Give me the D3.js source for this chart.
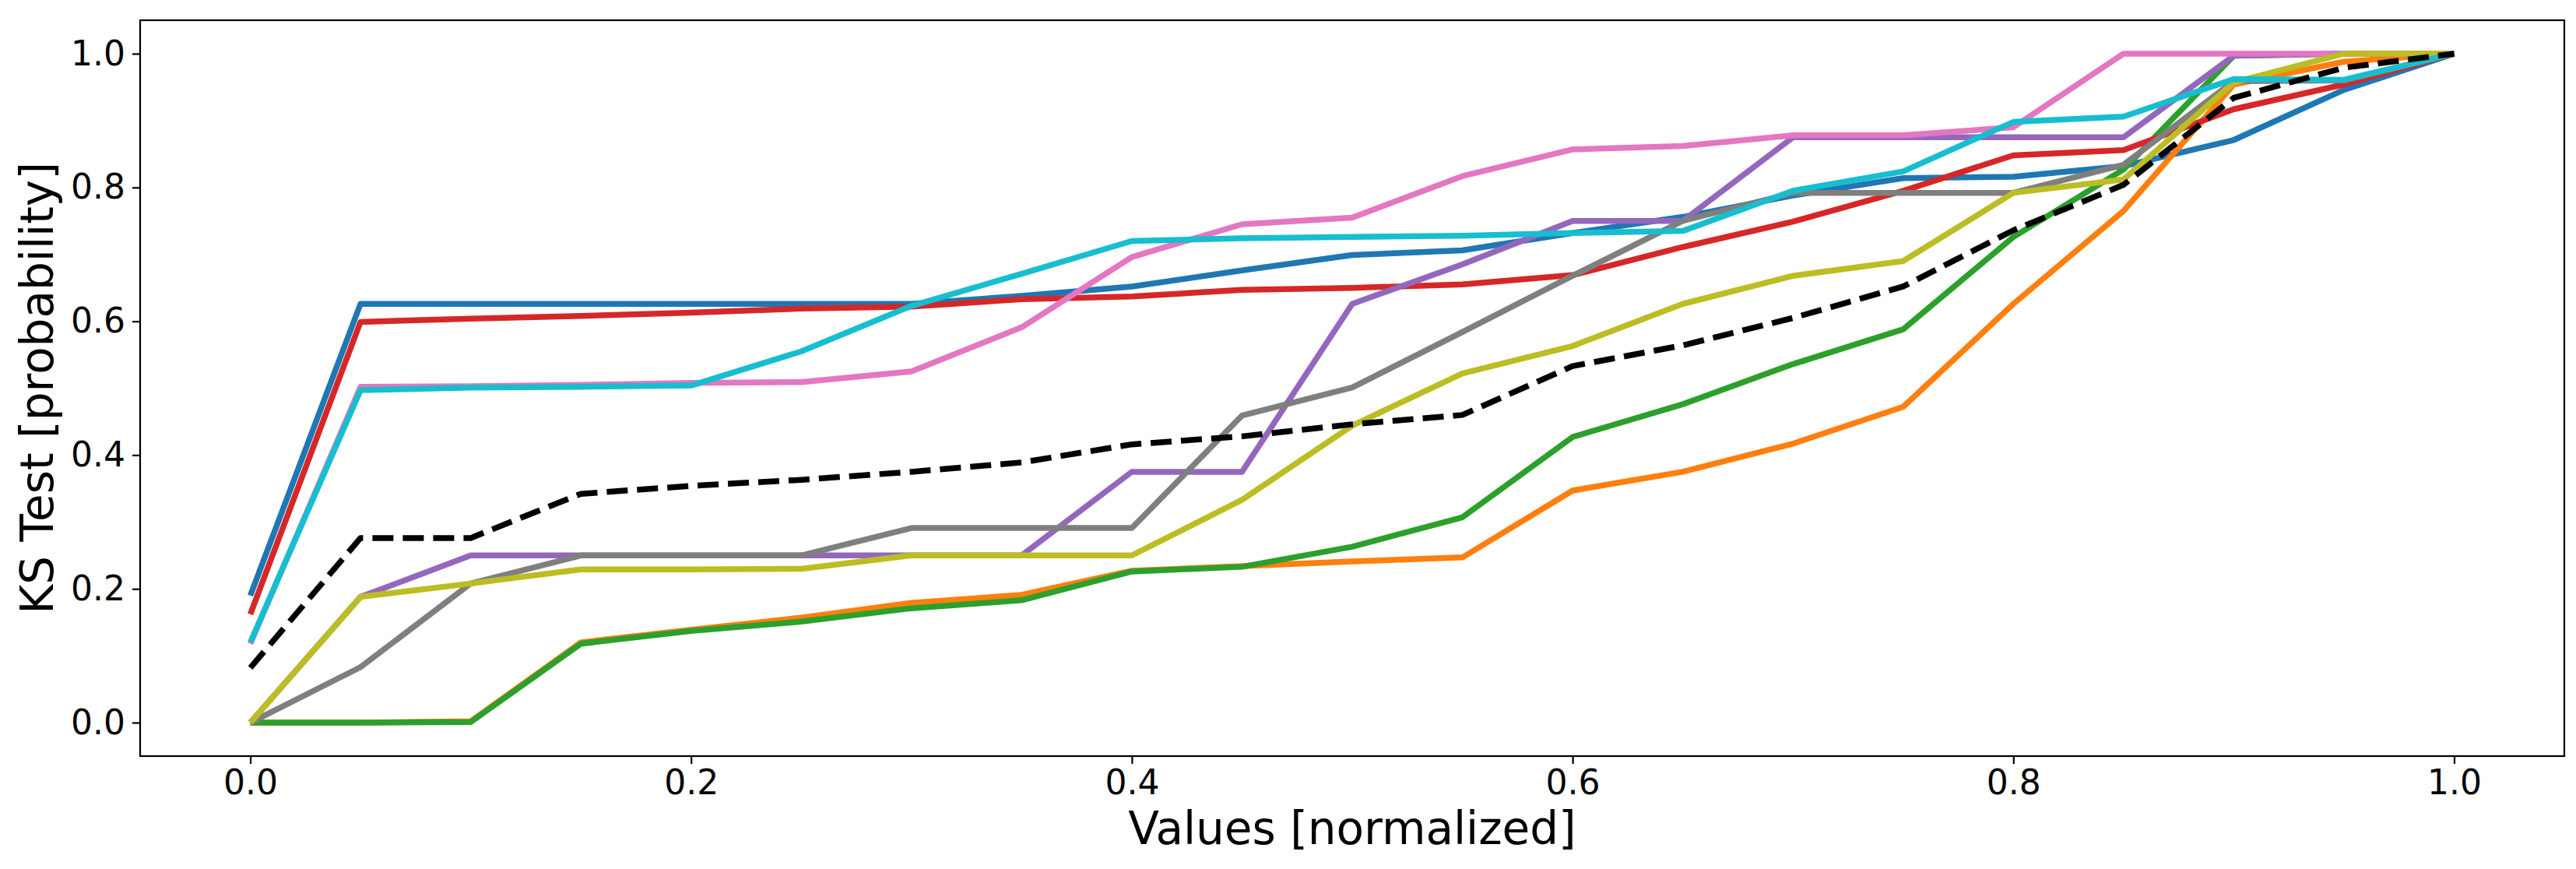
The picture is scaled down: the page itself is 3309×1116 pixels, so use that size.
<!DOCTYPE html>
<html>
<head>
<meta charset="utf-8">
<script src="https://cdn.jsdelivr.net/npm/d3@7"></script>
<style>
  html, body { margin: 0; padding: 0; background: #fff; }
  svg { display: block; }
  text { font-family: "DejaVu Sans", sans-serif; fill: #000; }
</style>
</head>
<body>
<svg id="chart" width="3309" height="1116"></svg>
<script>
// ---- data ----
const xValues = [0, 0.05, 0.1, 0.15, 0.2, 0.25, 0.3, 0.35, 0.4, 0.45, 0.5,
                 0.55, 0.6, 0.65, 0.7, 0.75, 0.8, 0.85, 0.9, 0.95, 1.0];
const xTicks = [0, 0.2, 0.4, 0.6, 0.8, 1.0];
const yTicks = [0, 0.2, 0.4, 0.6, 0.8, 1.0];

const blueSeries   = [0.19, 0.626, 0.626, 0.626, 0.626, 0.626, 0.626, 0.638, 0.652, 0.676, 0.699, 0.706, 0.732, 0.756, 0.788, 0.814, 0.816, 0.832, 0.871, 0.946, 1.0];
const orangeSeries = [0, 0, 0.002, 0.12, 0.139, 0.157, 0.179, 0.191, 0.227, 0.234, 0.241, 0.247, 0.347, 0.375, 0.417, 0.472, 0.626, 0.765, 0.954, 0.988, 1.0];
const greenSeries  = [0, 0, 0.001, 0.118, 0.137, 0.151, 0.171, 0.183, 0.226, 0.233, 0.263, 0.307, 0.427, 0.476, 0.536, 0.588, 0.726, 0.827, 0.997, 1.0, 1.0];
const redSeries    = [0.162, 0.599, 0.604, 0.608, 0.613, 0.619, 0.622, 0.633, 0.637, 0.647, 0.650, 0.655, 0.669, 0.711, 0.749, 0.795, 0.848, 0.856, 0.917, 0.954, 1.0];
const purpleSeries = [0, 0.188, 0.250, 0.250, 0.250, 0.250, 0.250, 0.250, 0.375, 0.375, 0.626, 0.685, 0.750, 0.750, 0.875, 0.875, 0.875, 0.875, 0.997, 1.0, 1.0];
const pinkSeries   = [0.118, 0.502, 0.503, 0.505, 0.508, 0.509, 0.525, 0.591, 0.696, 0.745, 0.755, 0.817, 0.857, 0.862, 0.878, 0.878, 0.890, 1.0, 1.0, 1.0, 1.0];
const graySeries   = [0, 0.083, 0.208, 0.25, 0.25, 0.25, 0.291, 0.291, 0.291, 0.459, 0.501, 0.584, 0.668, 0.750, 0.792, 0.792, 0.792, 0.834, 0.959, 0.96, 1.0];
const oliveSeries  = [0, 0.188, 0.208, 0.229, 0.229, 0.230, 0.25, 0.25, 0.25, 0.333, 0.444, 0.522, 0.563, 0.626, 0.668, 0.690, 0.792, 0.812, 0.957, 1.0, 1.0];
const cyanSeries   = [0.12, 0.497, 0.501, 0.502, 0.504, 0.555, 0.623, 0.671, 0.720, 0.724, 0.726, 0.728, 0.732, 0.735, 0.795, 0.824, 0.898, 0.906, 0.962, 0.961, 1.0];
const meanSeries   = [0.082, 0.276, 0.276, 0.342, 0.354, 0.363, 0.375, 0.389, 0.416, 0.428, 0.446, 0.460, 0.533, 0.564, 0.605, 0.652, 0.736, 0.804, 0.934, 0.979, 1.0];

const seriesList = [
  { values: blueSeries,   color: "#1f77b4", dashed: false },
  { values: orangeSeries, color: "#ff7f0e", dashed: false },
  { values: greenSeries,  color: "#2ca02c", dashed: false },
  { values: redSeries,    color: "#d62728", dashed: false },
  { values: purpleSeries, color: "#9467bd", dashed: false },
  { values: pinkSeries,   color: "#e377c2", dashed: false },
  { values: graySeries,   color: "#7f7f7f", dashed: false },
  { values: oliveSeries,  color: "#bcbd22", dashed: false },
  { values: cyanSeries,   color: "#17becf", dashed: false },
  { values: meanSeries,   color: "#000000", dashed: true }
];

// ---- layout ----
const W = 3309, H = 1116;
const margin = { left: 180, top: 26, right: 15, bottom: 145 };
const pw = W - margin.left - margin.right;
const ph = H - margin.top - margin.bottom;

const svg = d3.select("#chart");
const g = svg.append("g").attr("transform", `translate(${margin.left},${margin.top})`);

const x = d3.scaleLinear().domain([-0.05, 1.05]).range([0, pw]);
const y = d3.scaleLinear().domain([-0.05, 1.05]).range([ph, 0]);

g.append("clipPath").attr("id", "clip")
  .append("rect").attr("width", pw).attr("height", ph);

const line = d3.line()
  .x((d, i) => x(xValues[i]))
  .y(d => y(d));

const lines = g.append("g").attr("clip-path", "url(#clip)");
seriesList.forEach(s => {
  lines.append("path")
    .datum(s.values)
    .attr("d", line)
    .attr("fill", "none")
    .attr("stroke", s.color)
    .attr("stroke-width", 7.5)
    .attr("stroke-linejoin", "round")
    .attr("stroke-linecap", "butt")
    .attr("stroke-dasharray", s.dashed ? "27,12" : null);
});

// axes
const fmt = d3.format(".1f");
const xAxis = g.append("g")
  .attr("transform", `translate(0,${ph})`)
  .call(d3.axisBottom(x).tickValues(xTicks).tickFormat(fmt).tickSize(10).tickPadding(8));
const yAxis = g.append("g")
  .call(d3.axisLeft(y).tickValues(yTicks).tickFormat(fmt).tickSize(10).tickPadding(9));

[xAxis, yAxis].forEach(a => {
  a.select(".domain").remove();
  a.selectAll(".tick line").attr("stroke", "#000").attr("stroke-width", 2.2);
  a.selectAll(".tick text")
    .style("font-family", '"DejaVu Sans", sans-serif')
    .style("font-size", "44px")
    .attr("fill", "#000");
});

// frame
g.append("rect")
  .attr("x", 0).attr("y", 0).attr("width", pw).attr("height", ph)
  .attr("fill", "none").attr("stroke", "#000").attr("stroke-width", 2.2);

// axis labels
svg.append("text")
  .attr("x", margin.left + pw / 2)
  .attr("y", 1084)
  .attr("text-anchor", "middle")
  .style("font-size", "58px")
  .text("Values [normalized]");

svg.append("text")
  .attr("transform", `translate(68,${margin.top + ph / 2}) rotate(-90)`)
  .attr("text-anchor", "middle")
  .style("font-size", "58px")
  .text("KS Test [probability]");
</script>
</body>
</html>
